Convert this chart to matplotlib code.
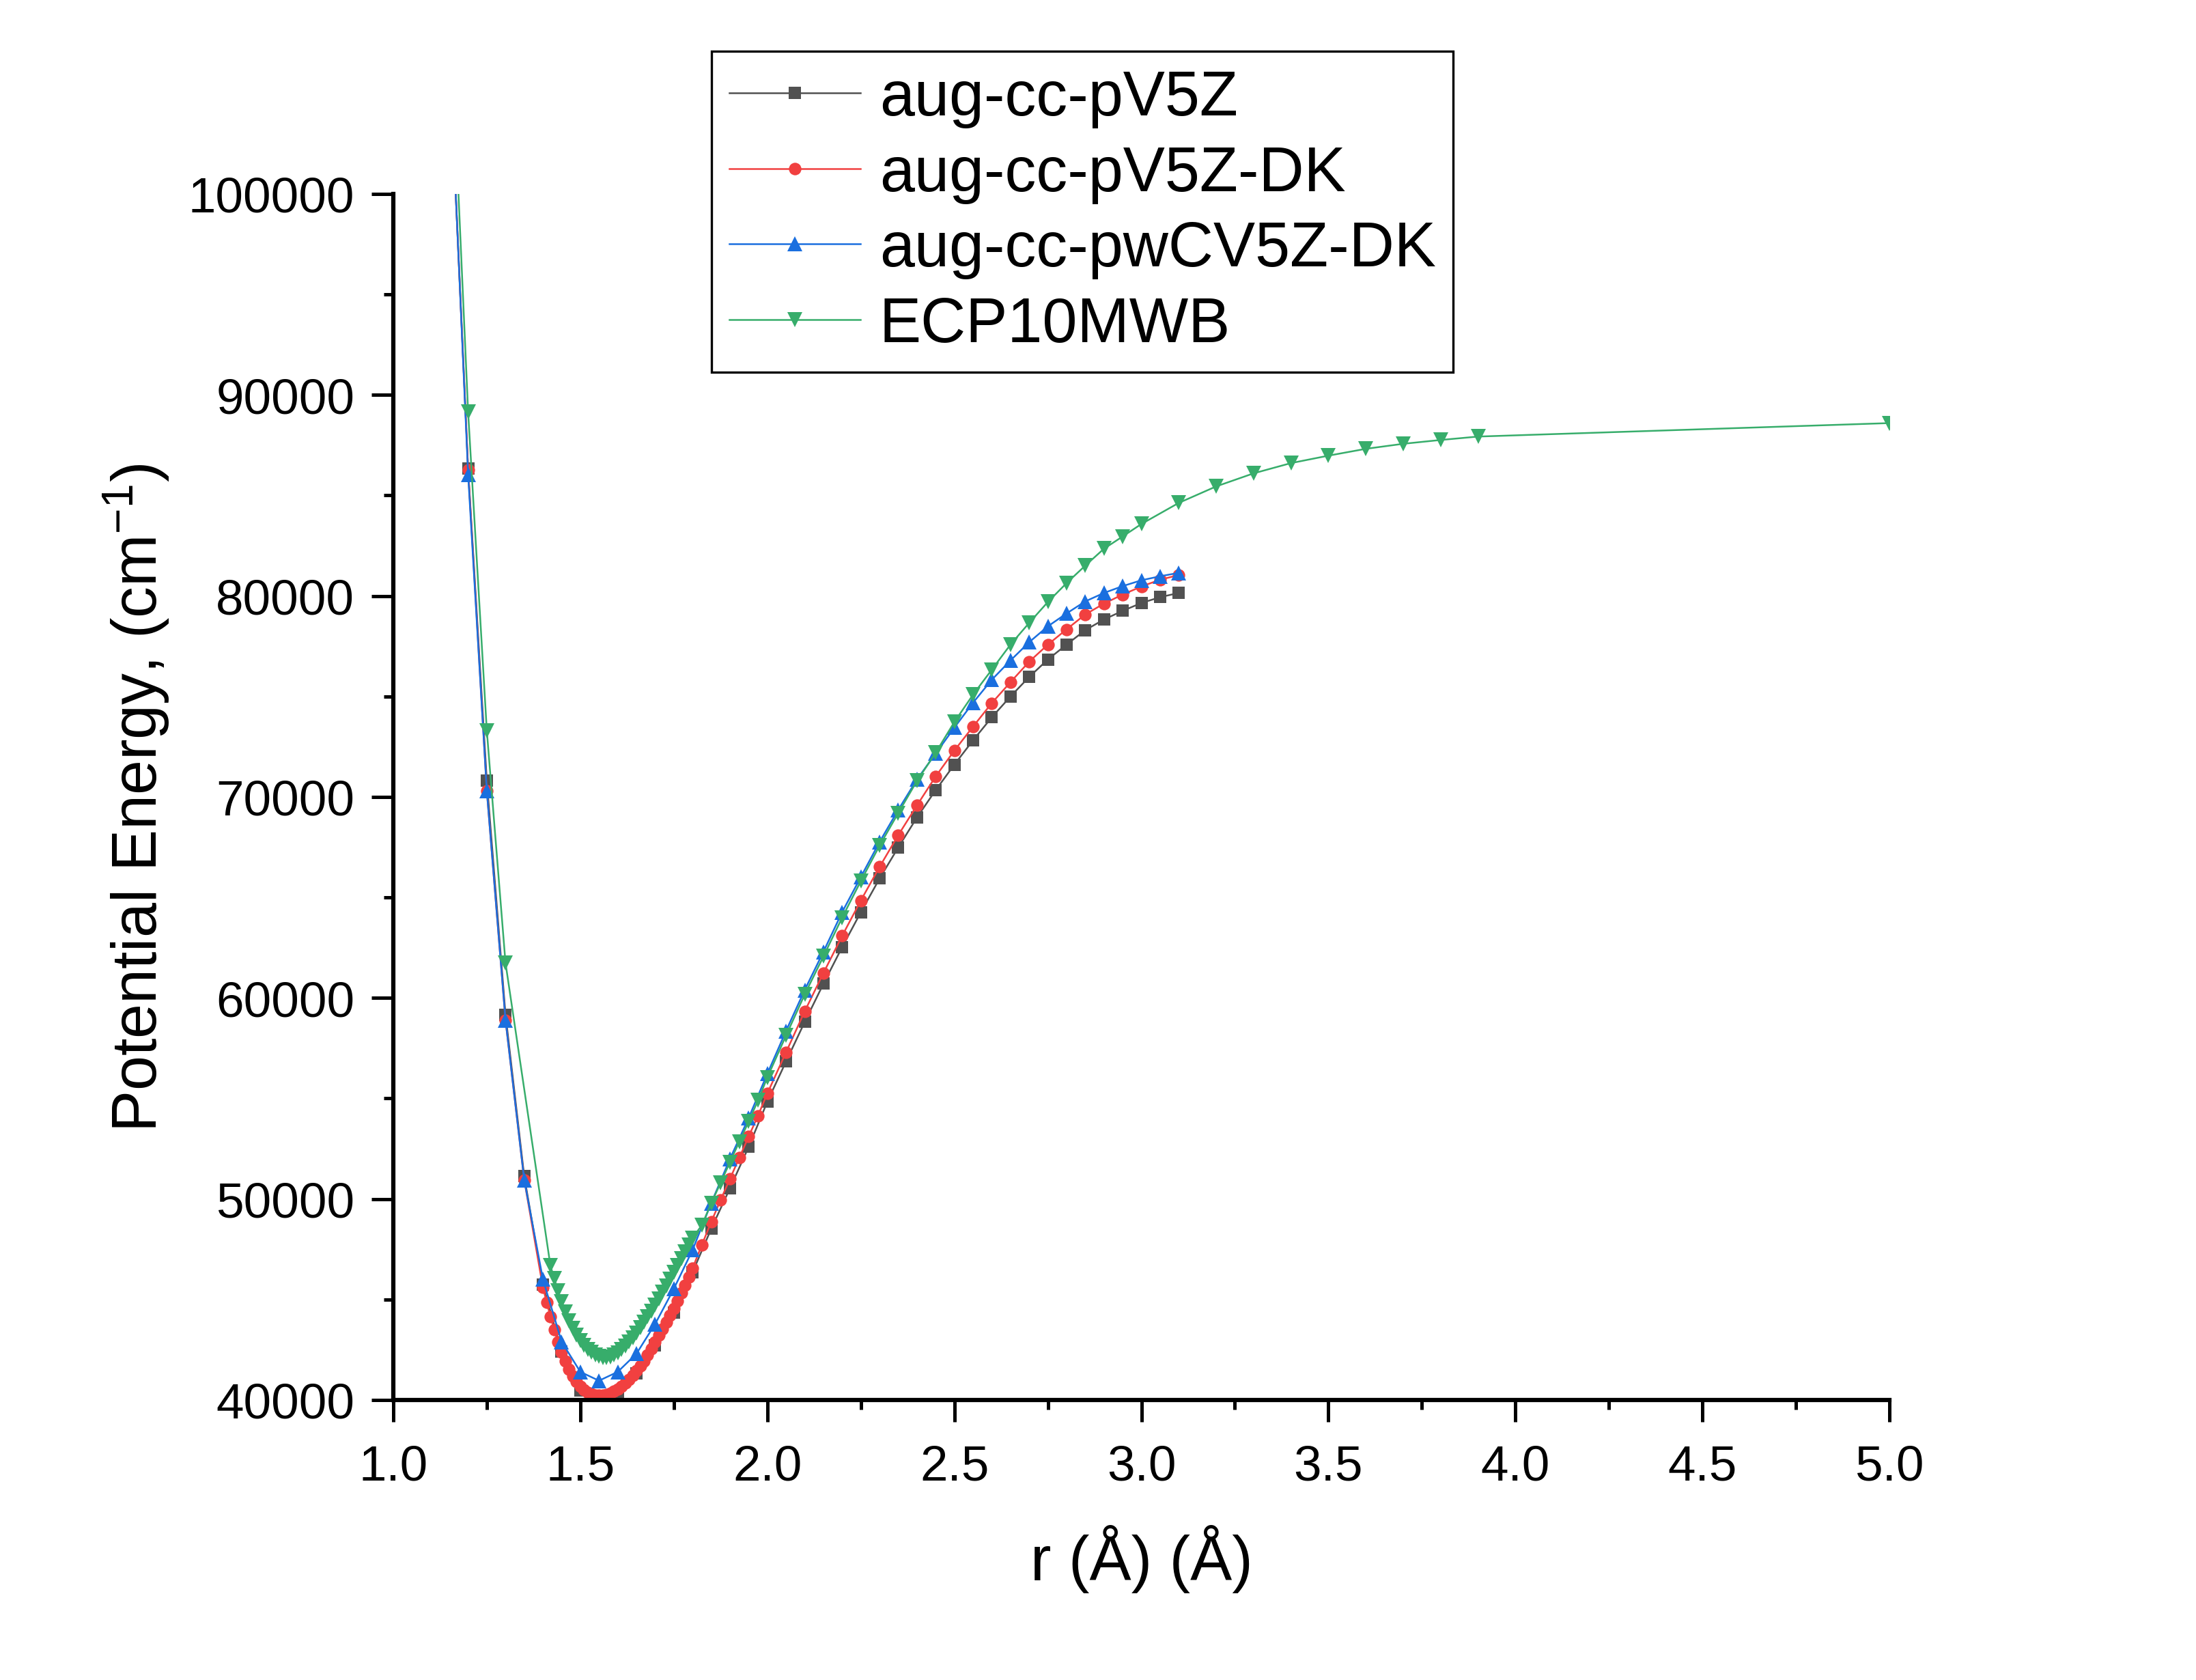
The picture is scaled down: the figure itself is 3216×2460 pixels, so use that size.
import numpy as np
import matplotlib
matplotlib.use("Agg")
import matplotlib.pyplot as plt
from matplotlib.ticker import MultipleLocator, FormatStrFormatter

plt.rcParams['font.family'] = ['Liberation Sans', 'DejaVu Sans']
plt.rcParams['mathtext.default'] = 'regular'

# --- data (r in Angstrom, energy in cm-1) ---
r_v5z = [1.15, 1.20, 1.25, 1.30, 1.35, 1.40, 1.45, 1.50, 1.55, 1.60,
         1.65, 1.70, 1.75, 1.80, 1.85, 1.90, 1.95, 2.00, 2.05, 2.10,
         2.15, 2.20, 2.25, 2.30, 2.35, 2.40, 2.45, 2.50, 2.55, 2.60,
         2.65, 2.70, 2.75, 2.80, 2.85, 2.90, 2.95, 3.00, 3.05, 3.10]
e_v5z = [106990, 86330, 70800, 59170, 51130, 45750, 42400, 40490, 40200, 40360,
         41340, 42730, 44340, 46350, 48520, 50530, 52590, 54840, 56840, 58810,
         60710, 62530, 64270, 65940, 67490, 68980, 70340, 71610, 72820, 73960,
         75000, 75970, 76840, 77580, 78300, 78830, 79260, 79650, 79940, 80150]

r_v5z_dk = [1.15, 1.20, 1.25, 1.30, 1.35,
            1.40, 1.41, 1.42, 1.43, 1.44, 1.45, 1.46, 1.47, 1.48, 1.49,
            1.50, 1.51, 1.52, 1.53, 1.54, 1.55, 1.56, 1.57, 1.58, 1.59,
            1.60, 1.61, 1.62, 1.63, 1.64, 1.65, 1.66, 1.67, 1.68, 1.69,
            1.70, 1.71, 1.72, 1.73, 1.74, 1.75, 1.76, 1.77, 1.78, 1.79,
            1.80, 1.825, 1.85, 1.875, 1.90, 1.925, 1.95, 1.975, 2.00,
            2.05, 2.10, 2.15, 2.20, 2.25, 2.30, 2.35, 2.40, 2.45, 2.50,
            2.55, 2.60, 2.65, 2.70, 2.75, 2.80, 2.85, 2.90, 2.95, 3.00,
            3.05, 3.10]
e_v5z_dk = [106990, 86290, 70300, 58890, 50950,
            45600, 44870, 44160, 43510, 42890, 42380, 41930, 41530, 41190, 40910,
            40680, 40510, 40390, 40300, 40250, 40230, 40240, 40280, 40340, 40430,
            40540, 40680, 40840, 41020, 41230, 41450, 41690, 41950, 42230, 42560,
            42900, 43220, 43540, 43870, 44210, 44550, 44930, 45320, 45720, 46130,
            46550, 47720, 48860, 49950, 51000, 52050, 53100, 54150, 55250,
            57300, 59340, 61240, 63090, 64850, 66520, 68100, 69580, 71020, 72310,
            73500, 74670, 75710, 76730, 77580, 78340, 79080, 79620, 80070, 80470,
            80810, 81040]

r_pwcv5z_dk = [1.15, 1.20, 1.25, 1.30, 1.35, 1.40, 1.45, 1.50, 1.55, 1.60,
               1.65, 1.70, 1.75, 1.80, 1.85, 1.90, 1.95, 2.00, 2.05, 2.10,
               2.15, 2.20, 2.25, 2.30, 2.35, 2.40, 2.45, 2.50, 2.55, 2.60,
               2.65, 2.70, 2.75, 2.80, 2.85, 2.90, 2.95, 3.00, 3.05, 3.10]
e_pwcv5z_dk = [107130, 86040, 70300, 58900, 50950, 46000, 42900, 41400, 40960, 41400,
               42300, 43780, 45530, 47460, 49800, 51990, 54030, 56230, 58360, 60400,
               62300, 64270, 66020, 67760, 69360, 70870, 72160, 73450, 74690, 75830,
               76790, 77700, 78490, 79130, 79730, 80150, 80490, 80780, 80980, 81150]

r_ecp = [1.15, 1.20, 1.25, 1.30,
         1.42, 1.43, 1.44, 1.45, 1.46, 1.47, 1.48, 1.49, 1.50, 1.51,
         1.52, 1.53, 1.54, 1.55, 1.56, 1.57, 1.58, 1.59, 1.60, 1.61,
         1.62, 1.63, 1.64, 1.65, 1.66, 1.67, 1.68, 1.69, 1.70, 1.71,
         1.72, 1.73, 1.74, 1.75, 1.76, 1.77, 1.78, 1.79, 1.80,
         1.825, 1.85, 1.875, 1.90, 1.925, 1.95, 1.975, 2.00,
         2.05, 2.10, 2.15, 2.20, 2.25, 2.30, 2.35, 2.40, 2.45, 2.50,
         2.55, 2.60, 2.65, 2.70, 2.75, 2.80, 2.85, 2.90, 2.95, 3.00,
         3.10, 3.20, 3.30, 3.40, 3.50, 3.60, 3.70, 3.80, 3.90, 5.00]
e_ecp = [110170, 89160, 73300, 61740,
         46690, 46060, 45450, 44880, 44380, 43950, 43570, 43240, 42960, 42720,
         42530, 42370, 42250, 42170, 42120, 42110, 42150, 42230, 42350, 42500,
         42680, 42880, 43100, 43340, 43590, 43860, 44140, 44430, 44730, 45040,
         45360, 45690, 46020, 46360, 46700, 47040, 47380, 47720, 48060,
         48700, 49790, 50800, 51830, 52850, 53850, 54900, 56050,
         58130, 60180, 62070, 64000, 65820, 67580, 69200, 70800, 72200, 73730,
         75090, 76330, 77580, 78660, 79700, 80640, 81510, 82350, 82960, 83580,
         84630, 85450, 86100, 86610, 86980, 87320, 87570, 87760, 87930, 88600]

series = [
    ("aug-cc-pV5Z", r_v5z, e_v5z, '#515151', 's', 4.2),
    ("aug-cc-pV5Z-DK", r_v5z_dk, e_v5z_dk, '#F14040', 'o', 4.4),
    ("aug-cc-pwCV5Z-DK", r_pwcv5z_dk, e_pwcv5z_dk, '#1A6FDF', '^', 5.2),
    ("ECP10MWB", r_ecp, e_ecp, '#37AD6B', 'v', 5.2),
]

fig = plt.figure(figsize=(10.72, 8.2033), dpi=300)
ax = fig.add_axes([0.1791, 0.1666, 0.6813, 0.7176])

for label, r, e, color, marker, ms in series:
    ax.plot(r, e, color=color, marker=marker, markersize=ms,
            markeredgewidth=0, linewidth=0.6, label=label)

ax.set_xlim(1.0, 5.0)
ax.set_ylim(40000, 100000)
ax.xaxis.set_major_locator(MultipleLocator(0.5))
ax.xaxis.set_minor_locator(MultipleLocator(0.25))
ax.xaxis.set_major_formatter(FormatStrFormatter('%.1f'))
ax.yaxis.set_major_locator(MultipleLocator(10000))
ax.yaxis.set_minor_locator(MultipleLocator(5000))

for side in ['top', 'right']:
    ax.spines[side].set_visible(False)
for side in ['left', 'bottom']:
    ax.spines[side].set_linewidth(1.5)

ax.tick_params(which='major', direction='out', length=7.6, width=1.2,
               labelsize=17.5, pad=6)
ax.tick_params(axis='x', which='major', pad=8)
ax.tick_params(which='minor', direction='out', length=3.4, width=1.2)

ax.set_xlabel("r (Å) (Å)", fontsize=22, labelpad=12)
ax.set_ylabel("Potential Energy, (cm$^{-1}$)", fontsize=22, labelpad=6)

leg = fig.legend(loc='upper left', bbox_to_anchor=(0.324, 0.969),
                 bbox_transform=fig.transFigure, borderaxespad=0,
                 fontsize=22, frameon=True, fancybox=False, shadow=False,
                 framealpha=1, edgecolor='black', borderpad=0.28,
                 labelspacing=0.27, handlelength=2.1, handletextpad=0.3,
                 numpoints=1)
leg.get_frame().set_linewidth(0.8)

fig.savefig("out.png", dpi=300)
